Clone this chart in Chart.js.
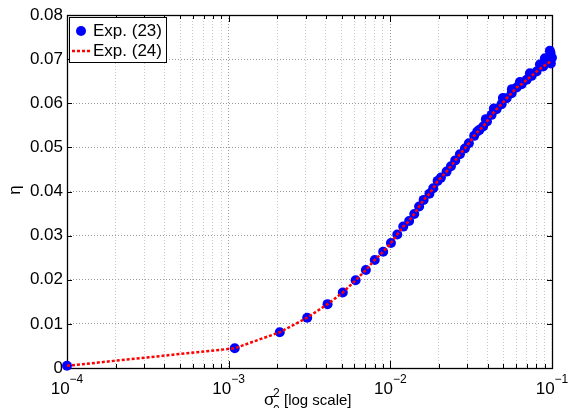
<!DOCTYPE html>
<html>
<head>
<meta charset="utf-8">
<script src="https://cdn.jsdelivr.net/npm/chart.js@4"></script>
<style>
  body { margin: 0; background: #fff; }
  #wrap { width: 569px; height: 408px; }
</style>
</head>
<body>
<div id="wrap"><canvas id="chart" width="569" height="408"></canvas></div>
<script>
// Exp. (23) measured points (sigma^2, eta)
const dotX = [1.0e-4, 1.09e-3, 2.07e-3, 3.06e-3, 4.09e-3, 5.08e-3, 6.10e-3, 7.06e-3, 8.01e-3, 9.03e-3,
  1.009e-2, 1.104e-2, 1.202e-2, 1.307e-2, 1.406e-2, 1.507e-2, 1.607e-2, 1.745e-2, 1.842e-2, 1.961e-2,
  2.056e-2, 2.228e-2, 2.371e-2, 2.52e-2, 2.694e-2, 2.892e-2, 3.06e-2, 3.30e-2, 3.56e-2, 3.75e-2,
  3.96e-2, 4.23e-2, 4.54e-2, 4.88e-2, 5.24e-2, 5.63e-2, 6.04e-2, 6.49e-2, 6.97e-2, 7.48e-2,
  8.03e-2, 8.82e-2, 9.26e-2, 9.80e-2,
  9.04e-2, 9.70e-2, 9.99e-2, 9.84e-2, 8.42e-2, 7.30e-2, 6.33e-2, 5.65e-2, 4.97e-2, 4.37e-2, 3.90e-2, 3.45e-2];
const dotY = [0.0005, 0.00447, 0.0081, 0.0114, 0.01447, 0.01712, 0.01989, 0.02222, 0.02449, 0.02635,
  0.02834, 0.03025, 0.03204, 0.03333, 0.03492, 0.03662, 0.0381, 0.0395, 0.04075, 0.0424,
  0.04315, 0.04451, 0.04574, 0.04705, 0.04846, 0.04973, 0.05095, 0.05261, 0.05397, 0.05472,
  0.05585, 0.05737, 0.05866, 0.0598, 0.06116, 0.06229, 0.06356, 0.06433, 0.06531, 0.06621,
  0.06719, 0.06832, 0.06946, 0.07136,
  0.07020, 0.07188, 0.07029, 0.06900, 0.06880, 0.06680, 0.06480, 0.06320, 0.06120, 0.05880, 0.05640, 0.05360];

// Exp. (24) curve
const lineX = [1.0e-4, 1.09e-3, 2.07e-3, 3.06e-3, 4.09e-3, 5.08e-3, 6.10e-3, 7.06e-3, 8.01e-3, 9.03e-3,
  1.009e-2, 1.104e-2, 1.202e-2, 1.307e-2, 1.406e-2, 1.507e-2, 1.607e-2, 1.745e-2, 1.842e-2, 1.961e-2,
  2.056e-2, 2.228e-2, 2.371e-2, 2.52e-2, 2.694e-2, 2.892e-2, 3.06e-2, 3.30e-2, 3.56e-2, 3.75e-2,
  3.96e-2, 4.23e-2, 4.54e-2, 4.88e-2, 5.24e-2, 5.63e-2, 6.04e-2, 6.49e-2, 6.97e-2, 7.48e-2,
  8.03e-2, 8.82e-2, 9.80e-2];
const lineY = [0.0005, 0.00447, 0.0081, 0.0114, 0.01447, 0.01712, 0.01989, 0.02222, 0.02449, 0.02635,
  0.02834, 0.03025, 0.03204, 0.03333, 0.03492, 0.03662, 0.0381, 0.0395, 0.04075, 0.0424,
  0.04315, 0.04451, 0.04574, 0.04705, 0.04846, 0.04973, 0.05095, 0.05261, 0.05397, 0.05472,
  0.05585, 0.05737, 0.05866, 0.0598, 0.06116, 0.06229, 0.06356, 0.06433, 0.06531, 0.06621,
  0.06719, 0.06832, 0.06946];

const yTicks = [0, 0.01, 0.02, 0.03, 0.04, 0.05, 0.06, 0.07, 0.08];
const xExponents = [-4, -3, -2, -1];
const seriesNames = ["Exp. (23)", "Exp. (24)"];

const FONT = "'Liberation Sans', Arial, Helvetica, sans-serif";
const BLUE = "#0000ff";
const RED = "#ff0000";

function xTickValues() {
  const out = [];
  for (let i = 0; i < xExponents.length - 1; i++) {
    for (let m = 1; m <= 9; m++) out.push(m * Math.pow(10, xExponents[i]));
  }
  out.push(Math.pow(10, xExponents[xExponents.length - 1]));
  return out;
}

function isMajor(v) {
  const l = Math.log10(v);
  return Math.abs(l - Math.round(l)) < 1e-9;
}

const axesPlugin = {
  id: "matlabAxes",
  beforeDatasetsDraw(chart) {
    const ctx = chart.ctx;
    const a = chart.chartArea;
    const xs = chart.scales.x, ys = chart.scales.y;
    ctx.save();
    ctx.strokeStyle = "#000";
    ctx.lineWidth = 1;
    ctx.beginPath();
    // inward ticks, x
    xs.ticks.forEach((t) => {
      const px = Math.round(xs.getPixelForValue(t.value)) + 0.5;
      const len = isMajor(t.value) ? 7 : 4;
      ctx.moveTo(px, a.bottom); ctx.lineTo(px, a.bottom - len);
      ctx.moveTo(px, a.top); ctx.lineTo(px, a.top + len);
    });
    ys.ticks.forEach((t) => {
      const py = Math.round(ys.getPixelForValue(t.value)) + 0.5;
      ctx.moveTo(a.left, py); ctx.lineTo(a.left + 5, py);
      ctx.moveTo(a.right, py); ctx.lineTo(a.right - 5, py);
    });
    ctx.stroke();
    ctx.lineWidth = 1.3;
    ctx.strokeRect(Math.round(a.left) + 0.5, Math.round(a.top) + 0.5,
      Math.round(a.right - a.left), Math.round(a.bottom - a.top));
    ctx.restore();
  },
  afterDraw(chart) {
    const ctx = chart.ctx;
    const xs = chart.scales.x;
    ctx.save();
    ctx.fillStyle = "#000";
    ctx.textBaseline = "alphabetic";
    // x tick labels 10^n
    xExponents.forEach((e) => {
      const px = xs.getPixelForValue(Math.pow(10, e));
      ctx.font = "17px " + FONT;
      const wb = ctx.measureText("10").width;
      ctx.font = "12px " + FONT;
      const exp = "\u2212" + Math.abs(e);
      const we = ctx.measureText(exp).width;
      const x0 = px - (wb + we) / 2;
      ctx.font = "17px " + FONT;
      ctx.textAlign = "left";
      ctx.fillText("10", x0, 394);
      ctx.font = "12px " + FONT;
      ctx.fillText(exp, x0 + wb, 383);
    });
    // x title
    ctx.textAlign = "left";
    ctx.font = "17px " + FONT;
    ctx.fillText("\u03c3", 264, 405);
    ctx.font = "12px " + FONT;
    ctx.fillText("2", 273, 397);
    ctx.fillText("0", 273, 414);
    ctx.font = "15px " + FONT;
    ctx.fillText("[log scale]", 284, 405);
    // y title
    ctx.save();
    ctx.translate(20, 190);
    ctx.rotate(-Math.PI / 2);
    ctx.textAlign = "center";
    ctx.font = "17px " + FONT;
    ctx.fillText("\u03b7", 0, 0);
    ctx.restore();
    // legend
    const lx = 69, ly = 17, lw = 97, lh = 45;
    ctx.fillStyle = "#fff";
    ctx.fillRect(lx, ly, lw, lh);
    ctx.strokeStyle = "#000";
    ctx.lineWidth = 1;
    ctx.strokeRect(lx + 0.5, ly + 0.5, lw, lh);
    ctx.fillStyle = BLUE;
    ctx.beginPath();
    ctx.arc(81, 31, 5, 0, Math.PI * 2);
    ctx.fill();
    ctx.strokeStyle = RED;
    ctx.lineWidth = 2.5;
    ctx.setLineDash([3, 2]);
    ctx.beginPath();
    ctx.moveTo(72, 51); ctx.lineTo(91, 51);
    ctx.stroke();
    ctx.setLineDash([]);
    ctx.fillStyle = "#000";
    ctx.font = "17px " + FONT;
    ctx.textBaseline = "middle";
    ctx.fillText(seriesNames[0], 93, 31);
    ctx.fillText(seriesNames[1], 93, 51);
    ctx.restore();
  }
};

new Chart(document.getElementById("chart"), {
  type: "scatter",
  data: {
    datasets: [
      {
        label: seriesNames[1],
        data: lineX.map((x, i) => ({ x: x, y: lineY[i] })),
        showLine: true,
        borderColor: RED,
        borderWidth: 2.5,
        borderDash: [3, 2],
        pointRadius: 0,
        fill: false,
        clip: false,
        order: 0
      },
      {
        label: seriesNames[0],
        data: dotX.map((x, i) => ({ x: x, y: dotY[i] })),
        showLine: false,
        backgroundColor: BLUE,
        borderWidth: 0,
        pointRadius: 5,
        clip: false,
        order: 1
      }
    ]
  },
  options: {
    responsive: false,
    animation: false,
    layout: { padding: { left: 0, right: 17, top: 15, bottom: 0 } },
    plugins: { legend: { display: false }, tooltip: { enabled: false } },
    scales: {
      x: {
        type: "logarithmic",
        min: 1e-4,
        max: 1e-1,
        afterBuildTicks: (s) => { s.ticks = xTickValues().map((v) => ({ value: v })); },
        afterFit: (s) => { s.height = 40; },
        ticks: { display: false },
        grid: {
          drawTicks: false,
          color: (c) => (c.tick && isMajor(c.tick.value) ? "#9a9a9a" : "#c8c8c8"),
          lineWidth: 1
        },
        border: { display: false, dash: [1, 2] }
      },
      y: {
        min: 0,
        max: 0.08,
        afterBuildTicks: (s) => { s.ticks = yTicks.map((v) => ({ value: v })); },
        afterFit: (s) => { s.width = 67; },
        ticks: {
          padding: 4,
          color: "#000",
          font: { family: FONT, size: 17 },
          callback: (v) => (v === 0 ? "0" : v.toFixed(2))
        },
        grid: { drawTicks: false, color: "#9a9a9a", lineWidth: 1 },
        border: { display: false, dash: [1, 2] }
      }
    }
  },
  plugins: [axesPlugin]
});
</script>
</body>
</html>
